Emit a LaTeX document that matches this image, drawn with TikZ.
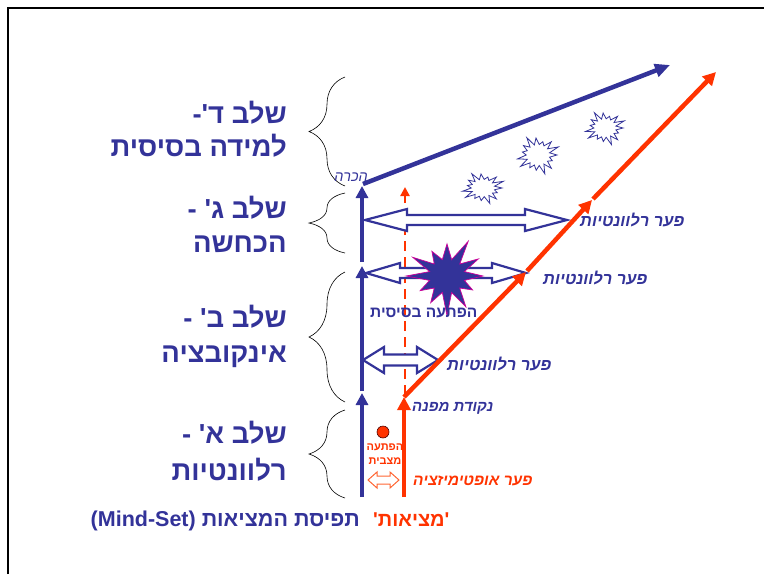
\documentclass[tikz,border=0pt]{standalone}
\usepackage{fontspec}
\usetikzlibrary{arrows.meta,decorations.pathreplacing}
\TeXXeTstate=1
\newfontfamily\heb[Script=Hebrew,Ligatures=TeXOff]{Liberation Sans}
\definecolor{tblue}{HTML}{333399}
\definecolor{tred}{HTML}{FF3300}
\definecolor{tlred}{HTML}{FF6633}
\definecolor{tmag}{HTML}{CC0099}
% hollow double arrow: x1 x2 y shafthalf headhalf headlen style
\newcommand\dblarr[7]{%
  \draw[#7] (#1,#3) -- ({#1+#6},{#3-#5}) -- ({#1+#6},{#3-#4}) -- ({#2-#6},{#3-#4})
   -- ({#2-#6},{#3-#5}) -- (#2,#3) -- ({#2-#6},{#3+#5}) -- ({#2-#6},{#3+#4})
   -- ({#1+#6},{#3+#4}) -- ({#1+#6},{#3+#5}) -- cycle;}
% burst: cx cy rx ry innerratio lastindex style
\newcommand\burst[7]{%
  \draw[#7] plot[samples at={0,...,#6}, variable=\burstidx]
   ({#1+((mod(\burstidx,2)==0) ? (1+0.18*sin(\burstidx*131)) : (#5))*#3*cos(\burstidx*360/(#6+1))},
    {#2+((mod(\burstidx,2)==0) ? (1+0.18*sin(\burstidx*131)) : (#5))*#4*sin(\burstidx*360/(#6+1))}) -- cycle;}
\tikzset{
  biglbl/.style={text=tblue, font=\heb\bfseries\fontsize{27.5}{30}\selectfont, inner sep=0pt, anchor=base east},
  gaplbl/.style={text=tblue, font=\heb\bfseries\itshape\fontsize{16.5}{18}\selectfont, inner sep=0pt, anchor=base west},
  brc/.style={decorate, decoration={brace, amplitude=36pt}, black, line width=0.6pt},
  bluearr/.style={tblue, line width=4pt, -{Triangle[length=12pt,width=12pt]}},
  redarr/.style={tred, line width=4.5pt, -{Triangle[length=13pt,width=13pt]}},
  hollow/.style={draw=tblue, fill=white, line width=2.2pt, line join=miter},
  smallburst/.style={draw=tblue, fill=white, line width=0.8pt},
}
\begin{document}
\begin{tikzpicture}[x=1pt,y=-1pt]
\useasboundingbox (0,0) rectangle (764,574);
% frame
\draw[black, line width=1.5pt] (8,574) -- (8,8) -- (764,8);

% braces
\draw[brc] (345,186) -- (345,77);
\draw[brc] (345,253) -- (345,193);
\draw[brc] (345,402) -- (345,272);
\draw[brc] (345,498) -- (345,410);

% stage labels
\node[biglbl] (s4a) at (287,123) {\beginR שלב ד'-\endR};
\node[biglbl] (s4b) at (287,156) {\beginR למידה בסיסית\endR};
\node[biglbl] (s3a) at (287,218) {\beginR שלב ג' -\endR};
\node[biglbl] (s3b) at (287,252) {\beginR הכחשה\endR};
\node[biglbl] (s2a) at (287,327) {\beginR שלב ב' -\endR};
\node[biglbl] (s2b) at (287,362) {\beginR אינקובציה\endR};
\node[biglbl] (s1a) at (287,443) {\beginR שלב א' -\endR};
\node[biglbl] (s1b) at (287,480) {\beginR רלוונטיות\endR};

\node[text=tblue, font=\heb\bfseries\fontsize{21.5}{23}\selectfont, inner sep=0pt, anchor=base east]
  (mind) at (360,526) {\beginR תפיסת המציאות \beginL(Mind-Set)\endL\endR};
\node[text=tred, font=\heb\bfseries\fontsize{20}{22}\selectfont, inner sep=0pt, anchor=base west]
  (real) at (373,526) {\beginR 'מציאות'\endR};

% coordinates of the two lines
\coordinate (b0) at (362,497);
\coordinate (b1) at (362,393);
\coordinate (b1s) at (362,391);
\coordinate (b2) at (362,266);
\coordinate (b2s) at (362,262);
\coordinate (b3) at (362,186);
\coordinate (b3s) at (363,184);
\coordinate (bend) at (670,65);
\coordinate (r0) at (404,497);
\coordinate (r1) at (404,397);
\coordinate (r1s) at (405,395);
\coordinate (rd) at (405,187);
\coordinate (q1) at (526,272);
\coordinate (q1s) at (527,271);
\coordinate (q2) at (592,200);
\coordinate (q2s) at (593,199);
\coordinate (rend) at (716,72);

% small bursts
\burst{483}{188}{19}{14}{0.62}{29}{smallburst}
\burst{538}{155}{19}{17}{0.62}{29}{smallburst}
\burst{605}{128}{18}{15}{0.62}{29}{smallburst}

% red dashed line
\draw[tred, line width=2.5pt, dash pattern=on 10pt off 6pt, -{Triangle[length=9pt,width=9pt]}] (r1s) -- (rd);

% blue lines
\draw[bluearr] (b0) -- (b1);
\draw[bluearr] (b1s) -- (b2);
\draw[bluearr] (b2s) -- (b3);
\draw[tblue, line width=4.5pt, -{Triangle[length=15pt,width=13pt]}] (b3s) -- (bend);

% hollow double arrows
\dblarr{365}{567}{220}{5}{11}{42}{hollow}
\dblarr{366}{526}{273}{5}{10}{34}{hollow}
\dblarr{363}{438}{360}{5.5}{13}{21}{hollow}
\dblarr{368}{399}{480}{4}{8}{9}{draw=tlred, fill=white, line width=1pt}

% red lines
\draw[redarr] (r0) -- (r1);
\draw[redarr] (r1) -- (q1);
\draw[redarr] (q1s) -- (q2);
\draw[redarr] (q2s) -- (rend);

% big star
\burst{447}{276}{36}{34}{0.5}{23}{fill=tblue, draw=tmag, line width=0.7pt}

% red dot
\node[circle, fill=tred, draw=black!70!red, line width=0.6pt, minimum size=12pt, inner sep=0pt] (dot) at (383,432) {};

% small labels
\node[text=tblue, font=\heb\itshape\fontsize{14.5}{16}\selectfont, inner sep=0pt, anchor=base east] (hakara) at (368,181) {\beginR הכרה\endR};
\node[gaplbl] (gap1) at (580,226) {\beginR פער רלוונטיות\endR};
\node[gaplbl] (gap2) at (543,284) {\beginR פער רלוונטיות\endR};
\node[gaplbl] (gap3) at (447,370) {\beginR פער רלוונטיות\endR};
\node[text=tblue, font=\heb\bfseries\fontsize{15.5}{17}\selectfont, inner sep=0pt, anchor=base west] (surp) at (370,317) {\beginR הפתעה בסיסית\endR};
\node[gaplbl, font=\heb\bfseries\itshape\fontsize{15}{17}\selectfont] (turn) at (412,411) {\beginR נקודת מפנה\endR};
\node[gaplbl, text=tred, font=\heb\bfseries\itshape\fontsize{15.5}{17}\selectfont] (opt) at (413,485) {\beginR פער אופטימיזציה\endR};
\node[text=tred, font=\heb\bfseries\fontsize{11}{12}\selectfont, inner sep=0pt, anchor=base] (sit1) at (385,450) {\beginR הפתעה\endR};
\node[text=tred, font=\heb\bfseries\fontsize{11}{12}\selectfont, inner sep=0pt, anchor=base] (sit2) at (385,464) {\beginR מצבית\endR};
\end{tikzpicture}
\end{document}
